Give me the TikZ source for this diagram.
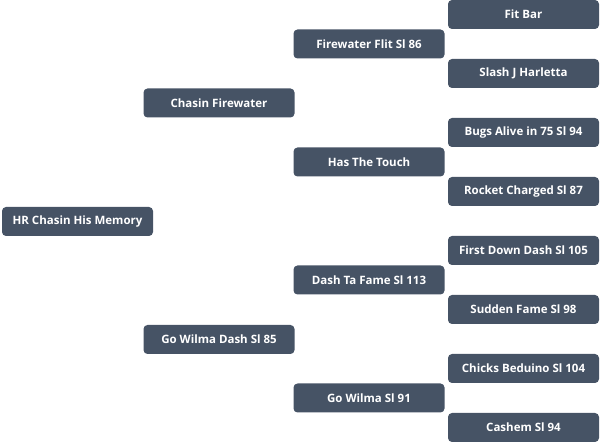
\documentclass[tikz,border=0pt]{standalone}
\usepackage{fontspec}
\setmainfont{Open Sans}
\definecolor{boxfill}{HTML}{465365}
\begin{document}
\begin{tikzpicture}[x=1pt,y=-1pt,
  horse/.style={fill=boxfill, rounded corners=4pt, minimum width=151pt, minimum height=29pt, inner sep=0pt,
    text=white, font=\fontsize{11.5}{13}\selectfont\bfseries}]
\useasboundingbox (0,0) rectangle (600,443);
\node[horse] (g1) at (77.5,221.5) {HR Chasin His Memory};
\node[horse] (s1) at (219,103) {Chasin Firewater};
\node[horse] (d1) at (219,339.5) {Go Wilma Dash Sl 85};
\node[horse] (ss) at (369,44) {Firewater Flit Sl 86};
\node[horse] (sd) at (369,162) {Has The Touch};
\node[horse] (ds) at (369,280) {Dash Ta Fame Sl 113};
\node[horse] (dd) at (369,398) {Go Wilma Sl 91};
\node[horse] (a1) at (523.5,14.5) {Fit Bar};
\node[horse] (a2) at (523.5,73.5) {Slash J Harletta};
\node[horse] (a3) at (523.5,132.5) {Bugs Alive in 75 Sl 94};
\node[horse] (a4) at (523.5,191.5) {Rocket Charged Sl 87};
\node[horse] (a5) at (523.5,250.5) {First Down Dash Sl 105};
\node[horse] (a6) at (523.5,309.5) {Sudden Fame Sl 98};
\node[horse] (a7) at (523.5,368.5) {Chicks Beduino Sl 104};
\node[horse] (a8) at (523.5,427.5) {Cashem Sl 94};
\end{tikzpicture}
\end{document}
